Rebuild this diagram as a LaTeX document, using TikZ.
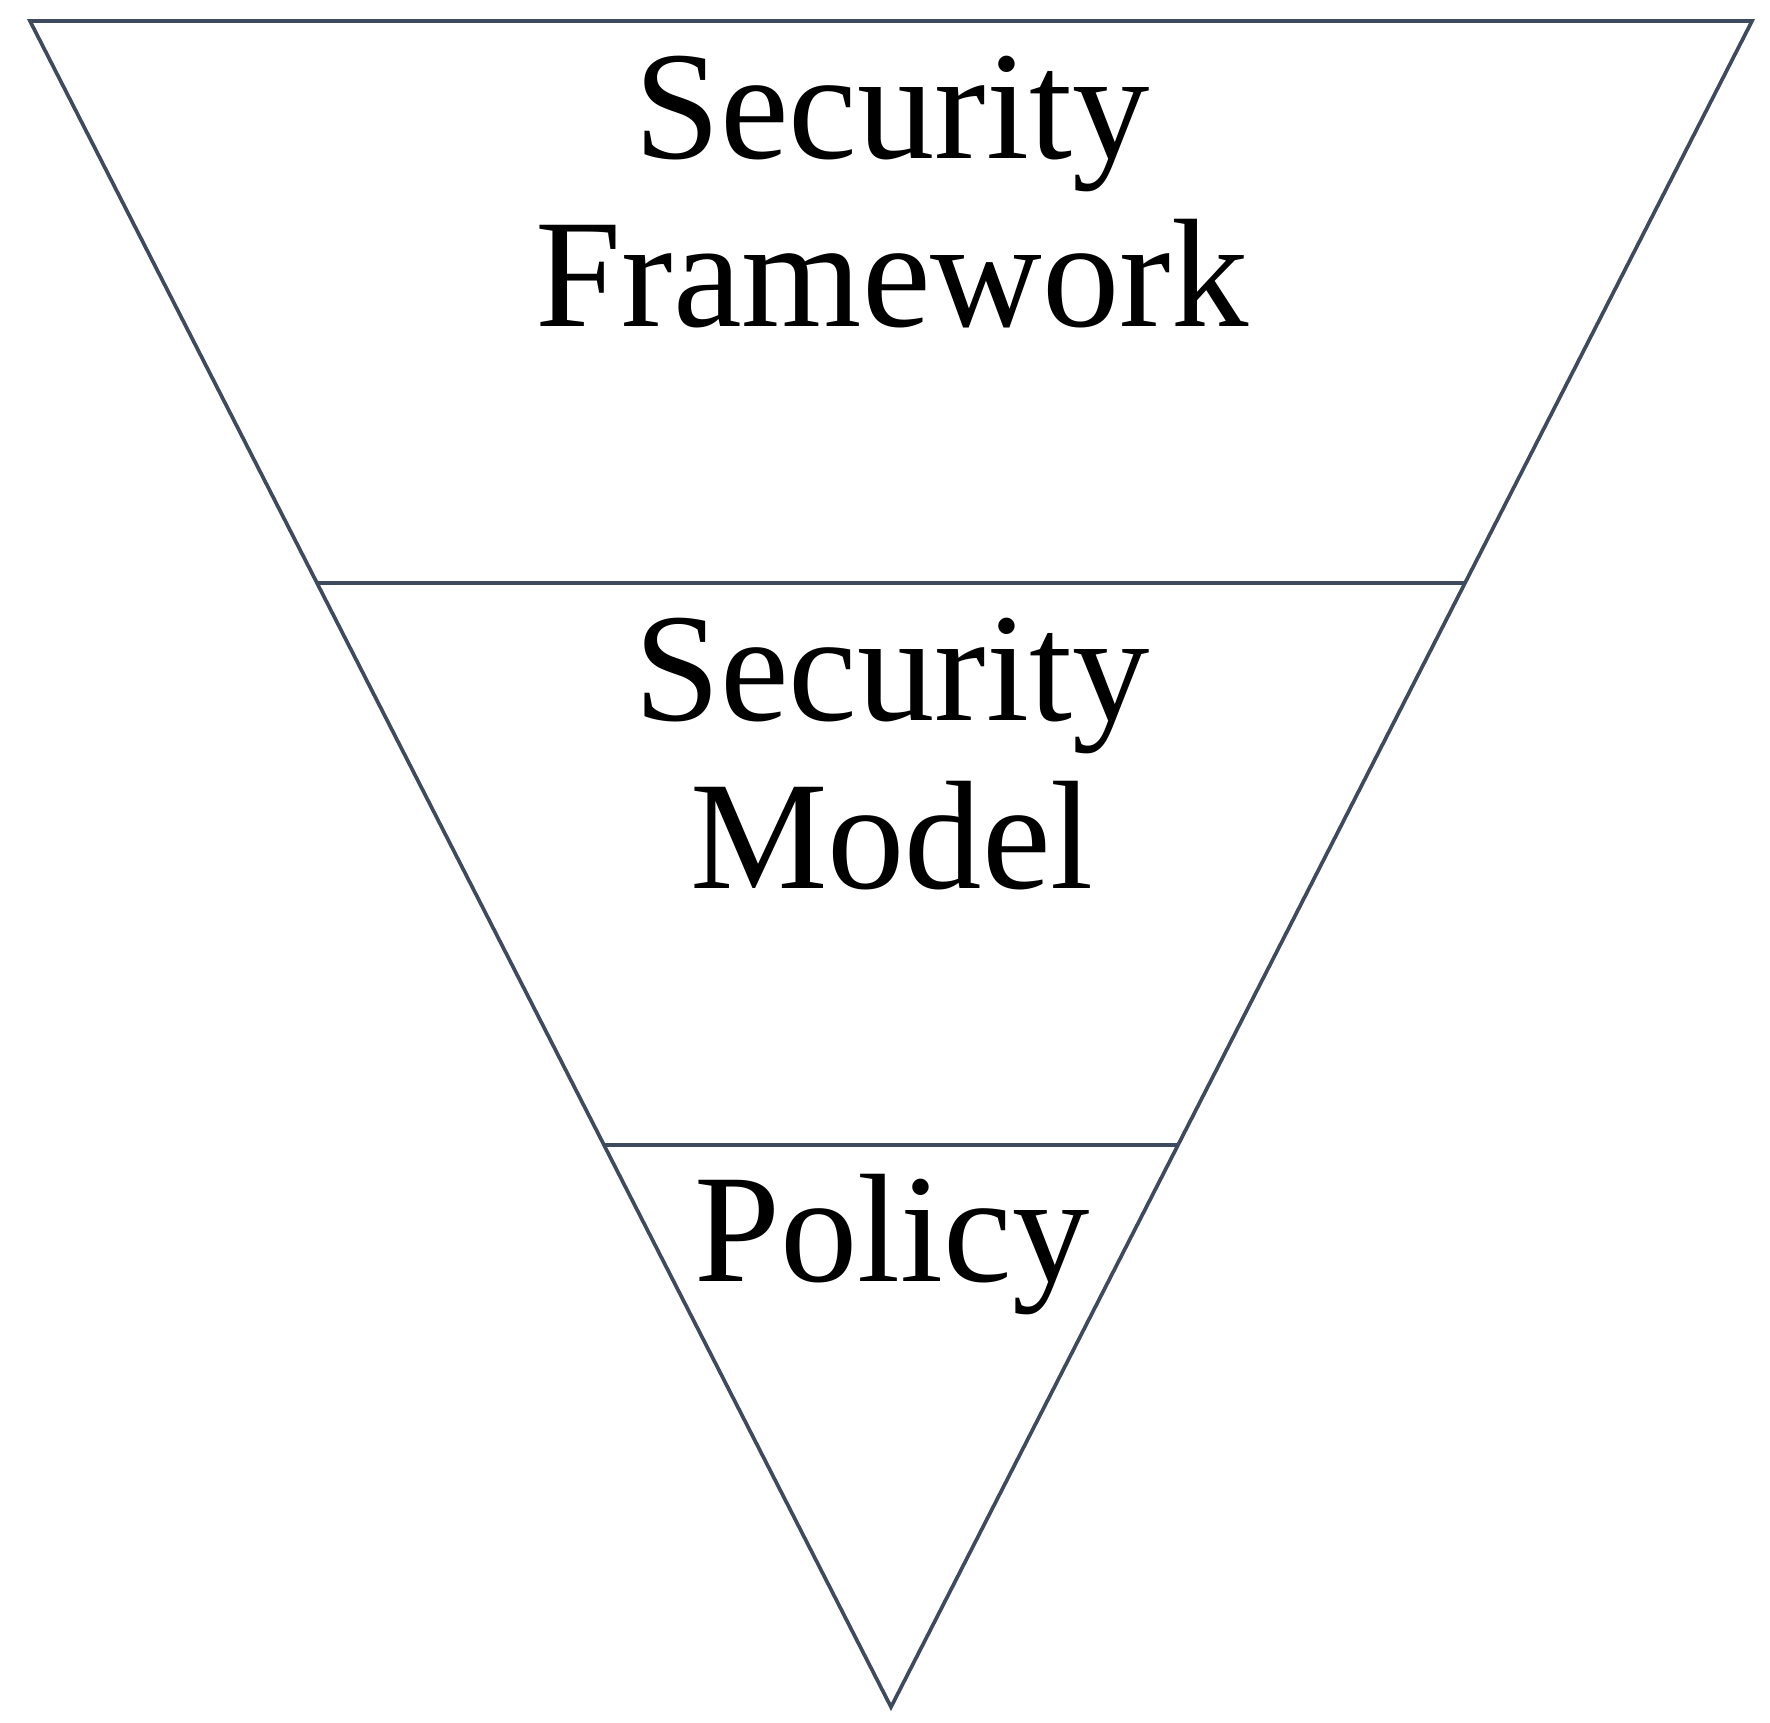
\documentclass[tikz,border=0pt]{standalone}
\usepackage{fontspec}
\setmainfont{Liberation Serif}
\usetikzlibrary{calc}
\definecolor{slate}{HTML}{3E4B5E}
\tikzset{
  edge/.style={draw=slate, line width=1.05pt, line join=miter},
  lbl/.style={align=center, inner sep=0pt, font=\fontsize{44}{48}\selectfont},
}

\begin{document}
\begin{tikzpicture}
\useasboundingbox (0,0) rectangle (17.70,-17.22);

% Corners of the inverted triangle
\coordinate (tl) at (0.30,-0.21);
\coordinate (tr) at (17.52,-0.21);
\coordinate (apex) at (8.91,-17.07);

\draw[edge] (tl) -- (tr) -- (apex) -- cycle;

% Layer borders at one and two thirds
\coordinate (l1) at ($(tl)!0.3333!(apex)$);
\coordinate (r1) at ($(tr)!0.3333!(apex)$);
\coordinate (l2) at ($(tl)!0.6667!(apex)$);
\coordinate (r2) at ($(tr)!0.6667!(apex)$);
\draw[edge] (l1) -- (r1);
\draw[edge] (l2) -- (r2);

% Layer labels
\node[lbl] (frame) at (8.92,-1.92) {Security\\Framework};
\node[lbl] (model) at (8.92,-7.54) {Security\\Model};
\node[lbl, anchor=base] (policy) at (8.92,-12.81) {Policy};

\end{tikzpicture}
\end{document}
